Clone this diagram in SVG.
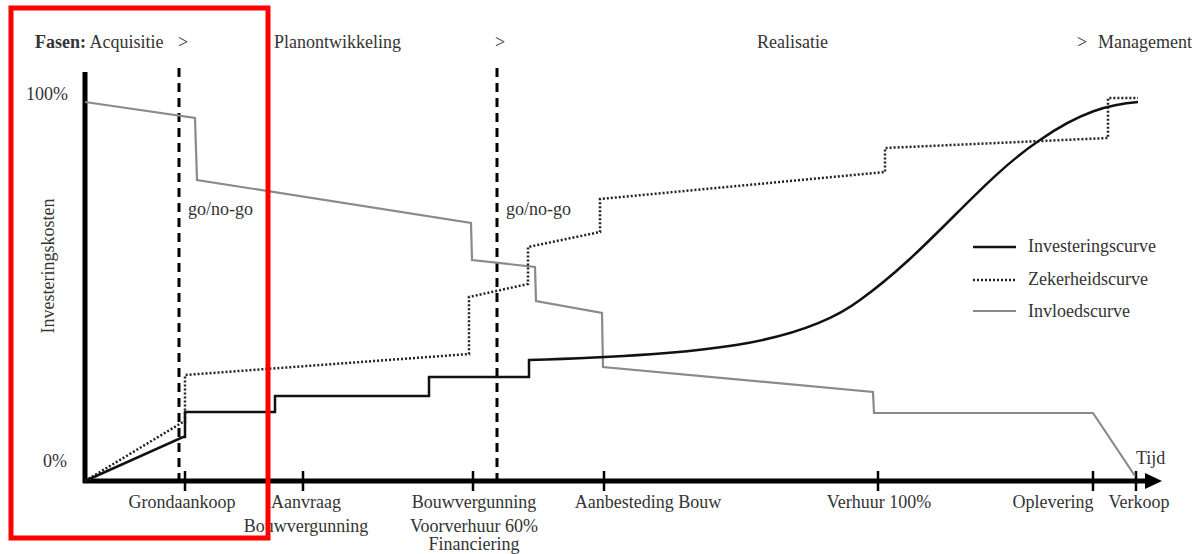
<svg xmlns="http://www.w3.org/2000/svg" width="1199" height="554" viewBox="0 0 1199 554">
<style>
text{font-family:"Liberation Serif","Times New Roman",serif;font-size:18px;fill:#333}
.c{text-anchor:middle}
.inv{fill:none;stroke:#111;stroke-width:2.5;stroke-linejoin:miter}
.zek{fill:none;stroke:#222;stroke-width:2.5;stroke-dasharray:2 2}
.inf{fill:none;stroke:#8a8a8a;stroke-width:2.2}
.axis{stroke:#000;stroke-width:5;fill:none}
.tick{stroke:#000;stroke-width:2.5}
.gate{stroke:#000;stroke-width:3;stroke-dasharray:9 6}
</style>
<rect width="1199" height="554" fill="#fff"/>
<g id="phases">
<text x="35" y="48"><tspan font-weight="bold">Fasen:</tspan> Acquisitie</text>
<text x="178" y="48">&gt;</text>
<text x="274" y="48">Planontwikkeling</text>
<text x="495" y="48">&gt;</text>
<text x="757" y="48">Realisatie</text>
<text x="1077" y="48">&gt;</text>
<text x="1098" y="48">Management</text>
</g>
<g id="axes">
<line class="axis" x1="85" y1="72" x2="85" y2="483"/>
<line class="axis" x1="83" y1="481" x2="1146" y2="481"/>
<path d="M1145,473 L1162,481 L1145,489 z" fill="#000"/>
<g class="tick">
<line x1="185" y1="471" x2="185" y2="491"/>
<line x1="303" y1="471" x2="303" y2="491"/>
<line x1="473" y1="471" x2="473" y2="491"/>
<line x1="604" y1="471" x2="604" y2="491"/>
<line x1="878" y1="471" x2="878" y2="491"/>
<line x1="1093" y1="471" x2="1093" y2="491"/>
<line x1="1136" y1="471" x2="1136" y2="491"/>
</g>
<text x="26" y="100">100%</text>
<text x="43" y="467">0%</text>
<text transform="translate(54,266) rotate(-90)" class="c">Investeringskosten</text>
<text x="1136" y="464">Tijd</text>
</g>
<g id="gates">
<line class="gate" x1="179" y1="68" x2="179" y2="480"/>
<line class="gate" x1="497" y1="68" x2="497" y2="480"/>
<text x="188" y="215">go/no-go</text>
<text x="506" y="215">go/no-go</text>
</g>
<g id="connectors">
<path id="invloedscurve" class="inf" d="M85,102 L195,118 L197,180 L471,223 L472,260 L535,267 L536,301 L602,313 L603,367 L873,392 L874,413 L1093,413 L1135,476"/>
<path id="zekerheidscurve" class="zek" d="M85,481 L183,422 L185,422 L185,375 L469,354 L469,297 L528,284 L528,247 L600,232 L600,199 L885,172 L885,148 L1108,138 L1108,98 L1138,98"/>
<path id="investeringscurve" class="inv" d="M85,481 L183,437 L185,437 L185,412 L275,412 L275,396 L429,396 L429,377 L529,377 L529,360 C700,355 800,345 860,300 C930,250 980,180 1040,140 C1080,112 1110,104 1138,102"/>
</g>
<g id="milestones">
<text x="182" y="508" class="c">Grondaankoop</text>
<text x="306" y="508" class="c">Aanvraag</text>
<text x="306" y="532" class="c">Bouwvergunning</text>
<text x="474" y="508" class="c">Bouwvergunning</text>
<text x="474" y="532" class="c">Voorverhuur 60%</text>
<text x="474" y="550" class="c">Financiering</text>
<text x="648" y="508" class="c">Aanbesteding Bouw</text>
<text x="879" y="508" class="c">Verhuur 100%</text>
<text x="1053" y="508" class="c">Oplevering</text>
<text x="1139" y="508" class="c">Verkoop</text>
</g>
<g id="legend">
<line x1="973" y1="247" x2="1016" y2="247" stroke="#111" stroke-width="2.5"/>
<line x1="973" y1="280" x2="1016" y2="280" class="zek"/>
<line x1="973" y1="311" x2="1016" y2="311" class="inf"/>
<text x="1028" y="252">Investeringscurve</text>
<text x="1028" y="285">Zekerheidscurve</text>
<text x="1028" y="317">Invloedscurve</text>
</g>
<rect id="highlight" x="11" y="8" width="257" height="530" fill="none" stroke="#f00" stroke-width="5"/>
</svg>
